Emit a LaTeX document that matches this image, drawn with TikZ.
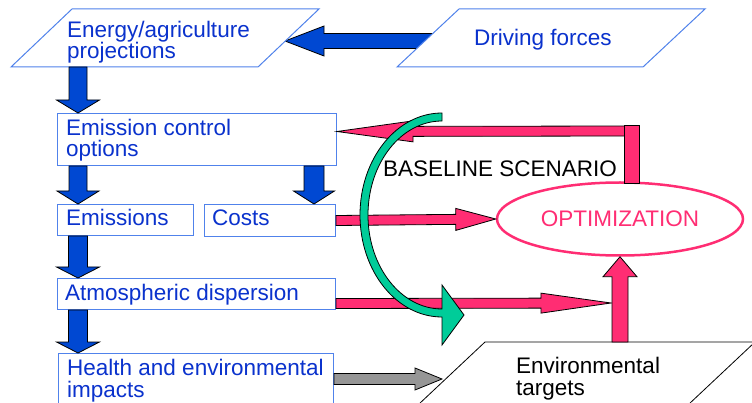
\documentclass[tikz,border=0pt]{standalone}
\usepackage{fontspec}
\setmainfont{Liberation Sans}
\usetikzlibrary{calc,shapes.geometric}

\definecolor{flowblue}{RGB}{0,72,210}
\definecolor{boxblue}{RGB}{80,130,235}
\definecolor{textblue}{RGB}{10,50,205}
\definecolor{optpink}{RGB}{255,45,115}
\definecolor{loopgreen}{RGB}{0,204,153}
\definecolor{targetgray}{RGB}{150,150,150}

\tikzset{
  model/.style={
    x=1pt, y=-1pt,
    every node/.style={font=\fontsize{22.5}{21.5}\selectfont, inner sep=0pt},
    boxtext/.style={text=textblue, align=left, anchor=base west},
    plaintext/.style={text=black, align=left, anchor=base west},
    box/.style={
        draw=boxblue,
        line width=1pt,
        fill=white,
        anchor=north west,
    },
    para/.style={draw=boxblue, line width=1pt, fill=white},
    fat/.style={draw=black, line width=0.8pt, line join=miter},
    optimum/.style={
        draw=optpink,
        line width=2.5pt,
        shape=ellipse,
        text=optpink,
        minimum width=246,
        minimum height=73,
    },
  }
}
% fat arrow: colour, from, to, shaft half width, head half width, head length
\newcommand{\fatarrow}[6]{
    \path ($#3!#6!#2$) coordinate (fa-h);
    \filldraw[fat, fill=#1] ($#2!#4!90:#3$) -- ($(fa-h)!#4!90:#3$)
        -- ($(fa-h)!#5!90:#3$) -- #3 -- ($(fa-h)!#5!-90:#3$)
        -- ($(fa-h)!#4!-90:#3$) -- ($#2!#4!-90:#3$) -- cycle;
}

\begin{document}
\begin{tikzpicture}[model]
    \useasboundingbox (0,0) rectangle (752,403);
    \clip (0,0) rectangle (752,403);

    \coordinate (drive-w) at (440,41);
    \coordinate (energy-e) at (285,41);
    \coordinate (energy-s) at (78,67);
    \coordinate (targets-w) at (442,379);
    \coordinate (targets-n) at (620,342);
    \coordinate (merge) at (611,303);
    \coordinate (feedback) at (630,131);

    \fatarrow{flowblue}{(drive-w)}{(energy-e)}{7.5pt}{15pt}{39pt}

    \draw[para] (72,9) -- (319,9) -- (258,67) -- (11,67) -- cycle;
    \draw[para] (459,9) -- (705,9) -- (643,67) -- (397,67) -- cycle;
    \draw[fat, fill=white] (485,342) -- (755,342) -- (672,420) -- (402,420) -- cycle;

    \node[box, minimum width=279, minimum height=52] (emctrl) at (57,113) {};
    \node[box, minimum width=136, minimum height=31] (emis) at (57,204) {};
    \node[box, minimum width=131, minimum height=32] (costs) at (204,204) {};
    \node[box, minimum width=278, minimum height=31] (atmos) at (57,278) {};
    \node[box, minimum width=275, minimum height=80] (health) at (58,353) {};
    \node[optimum] (opt) at (620,219) {OPTIMIZATION};

    \fatarrow{flowblue}{(energy-s)}{([xshift=21pt]emctrl.north west)}{9pt}{21.5pt}{13pt}
    \fatarrow{flowblue}{([xshift=21pt]emctrl.south west)}{([xshift=21pt]emis.north west)}{9pt}{21pt}{13pt}
    \fatarrow{flowblue}{([xshift=-23pt]emctrl.south east)}{([xshift=-22pt]costs.north east)}{10pt}{20.5pt}{13pt}
    \fatarrow{flowblue}{([xshift=21pt]emis.south west)}{([xshift=21pt]atmos.north west)}{9.5pt}{21.5pt}{11pt}
    \fatarrow{flowblue}{([xshift=21pt]atmos.south west)}{([xshift=20pt]health.north west)}{9.5pt}{21.5pt}{11pt}

    \fatarrow{optpink}{(costs.east)}{(opt.west)}{5pt}{11pt}{40pt}
    \fatarrow{optpink}{([yshift=-9.5pt]atmos.east)}{(merge)}{5pt}{10pt}{70pt}
    \fatarrow{optpink}{(targets-n)}{(opt.south -| targets-n)}{8pt}{17pt}{20pt}
    \fatarrow{optpink}{(feedback)}{([yshift=8pt]emctrl.east)}{5pt}{10.5pt}{76pt}
    \filldraw[fat, fill=optpink] (624,125) rectangle (639,183);
    \fatarrow{targetgray}{([yshift=-26pt]health.north east)}{(targets-w)}{5.5pt}{11pt}{27pt}

    % baseline loop
    \filldraw[fat, fill=loopgreen] (442,113)
        arc[start angle=-90, end angle=-270, x radius=82, y radius=102]
        -- (442,345) -- (464,315) -- (442,285) -- (442,309)
        arc[start angle=90, end angle=270, x radius=74, y radius=94] -- cycle;

    \node[boxtext] (energy) at (67,59) {Energy/agriculture\\projections};
    \node[boxtext] (drive) at (474,46) {Driving forces};
    \node[boxtext] (emctrl-t) at (66,157) {Emission control\\options};
    \node[boxtext] (emis-t) at (66,226) {Emissions};
    \node[boxtext] (costs-t) at (212,226) {Costs};
    \node[boxtext] (atmos-t) at (65,300) {Atmospheric dispersion};
    \node[boxtext] (health-t) at (67,397) {Health and environmental\\impacts};
    \node[plaintext] (baseline) at (383,177) {BASELINE SCENARIO};
    \node[plaintext] (targets) at (516,395) {Environmental\\targets};
\end{tikzpicture}
\end{document}
